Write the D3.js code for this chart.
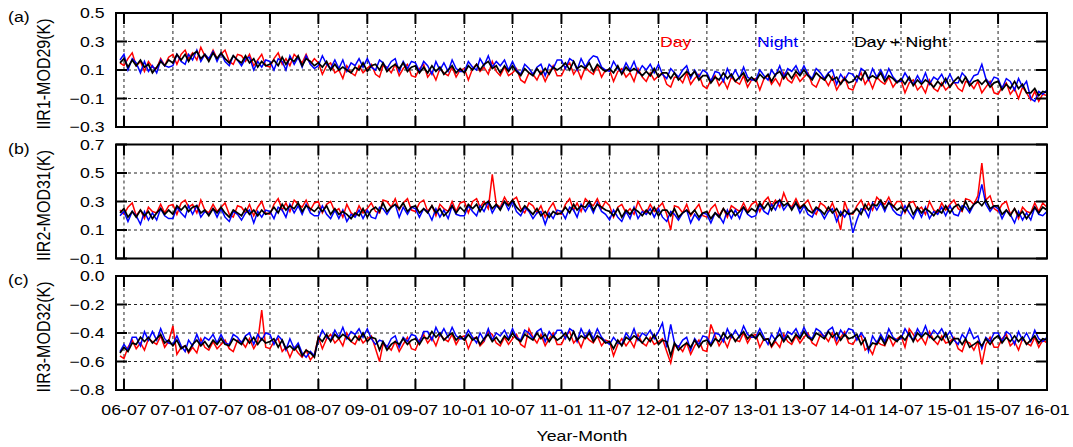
<!DOCTYPE html>
<html>
<head>
<meta charset="utf-8">
<script src="https://cdn.jsdelivr.net/npm/d3@7"></script>
<style>
body { margin: 0; background: #fff; }
svg { display: block; }
text { font-family: "Liberation Sans", Arial, sans-serif; fill: #000; }
</style>
</head>
<body>
<svg width="1073" height="447"></svg>
<script>

// half-month samples: 2006-06-16, then the 1st and 16th of each month up to 2016-01-01
var dates = [new Date(2006, 5, 16)];
for (var m = 0; m < 115; m++) {
    dates.push(new Date(2006, 6 + m, 1));
    if (m < 114) dates.push(new Date(2006, 6 + m, 16));
}

var xTickDates = d3.timeMonth.every(6).range(new Date(2006, 6, 1), new Date(2016, 0, 2));
var seriesNames = ["Day", "Night", "Day + Night"];
var panelLabels = ["(a)", "(b)", "(c)"];
var yTitles = ["IIR1-MOD29(K)", "IIR2-MOD31(K)", "IIR3-MOD32(K)"];
var yDomains = [[-0.3, 0.5], [-0.1, 0.7], [-0.8, 0.0]];

// all series below are in units of 0.01 K, one row per half year

// panel (a) IIR1-MOD29
var dayA = [15,
 13,18,22,13,16,9,16,12,11,18,13,19,
 21,14,21,24,18,22,17,26,20,17,24,18,
 21,24,16,14,21,20,16,21,13,17,21,13,
 12,18,22,14,18,13,21,18,15,21,14,18,
 15,7,13,15,8,10,4,13,8,6,13,8,
 11,14,7,5,13,12,8,14,6,11,14,6,
 5,11,14,5,9,3,11,8,6,12,5,10,
 11,3,11,14,9,12,7,16,9,6,12,6,
 8,11,3,1,8,7,3,9,2,8,13,6,
 6,12,15,7,11,4,12,9,7,13,5,10,
 10,2,9,11,5,8,2,11,5,2,8,3,
 6,8,0,-2,5,5,1,8,0,4,7,-1,
 -3,3,6,-1,3,-3,5,2,0,6,-2,3,
 4,-4,4,6,0,4,-1,8,3,1,7,2,
 5,8,0,-2,5,4,-1,5,-4,1,5,-3,
 -4,3,8,0,4,-3,5,2,0,5,-2,2,
 3,-6,1,3,-4,-1,-6,3,-3,-5,1,-4,
 -1,2,-3,-5,2,1,-3,2,-6,-2,2,-6,
 -7,-2,1,-7,-3,-10,-2,-6,-11,-5,-12,-7,
 -8];
var nightA = [17,
 21,10,18,15,8,16,9,13,8,17,13,12,
 13,21,16,14,21,17,24,16,21,18,23,16,
 22,16,13,20,17,13,18,19,10,16,12,17,
 16,10,18,16,10,20,14,19,12,20,14,11,
 13,20,14,11,17,11,17,9,15,13,18,12,
 18,12,10,17,15,11,16,18,9,16,11,16,
 15,9,16,13,7,16,10,15,9,17,11,9,
 9,16,12,10,18,13,20,12,16,13,17,10,
 16,10,7,14,11,7,12,14,6,14,11,17,
 17,11,18,16,10,18,12,17,20,19,12,10,
 9,16,11,8,15,10,16,8,13,10,14,8,
 14,7,4,11,8,5,10,13,4,10,5,10,
 8,2,9,8,2,11,5,10,4,12,5,3,
 3,10,6,3,10,6,13,5,11,9,13,7,
 13,7,4,11,8,4,8,10,0,7,3,8,
 7,2,11,9,3,11,5,10,4,11,5,2,
 2,8,3,0,6,1,8,0,5,3,7,1,
 7,1,1,8,5,1,6,7,14,4,0,5,
 4,-3,4,2,-4,4,-2,2,-10,-12,-5,-7,
 -4];
var allA = [15,
 18,12,17,13,17,12,14,8,12,16,13,17,
 15,21,17,21,16,21,23,18,21,16,22,18,
 22,18,15,20,17,15,20,15,18,12,16,13,
 14,17,13,19,14,18,16,20,13,18,16,13,
 15,12,16,10,14,10,12,10,8,12,10,15,
 9,13,14,10,15,9,12,14,11,15,9,12,
 13,8,12,8,13,9,12,7,10,13,8,11,
 8,13,10,14,10,14,16,11,13,8,13,9,
 13,9,6,11,8,6,11,7,11,7,12,10,
 12,15,10,16,11,13,11,15,9,14,11,9,
 11,8,13,7,12,9,11,9,6,9,6,11,
 5,8,8,4,8,3,6,9,6,9,3,6,
 6,1,5,3,8,4,7,2,5,8,2,5,
 2,7,4,7,2,7,9,4,8,4,9,6,
 10,6,3,8,5,3,7,3,5,0,4,1,
 2,6,3,9,4,6,4,8,2,6,4,1,
 4,0,5,-1,3,0,3,1,-2,2,-1,4,
 -2,2,5,1,5,-1,2,3,0,3,-2,1,
 2,-4,0,-3,2,-3,0,-6,-6,-3,-8,-5,
 -6];

// panel (b) IIR2-MOD31
var dayB = [24,
 21,26,29,20,24,18,26,23,22,28,22,27,
 28,21,29,31,26,28,22,31,24,22,28,23,
 26,29,21,19,27,26,22,28,20,26,30,22,
 21,28,32,24,29,23,31,28,26,31,24,29,
 30,22,28,30,23,25,19,28,22,20,27,22,
 25,29,23,22,31,30,26,32,24,29,32,24,
 23,29,31,23,27,20,28,25,23,30,23,29,
 30,22,30,32,26,30,25,49,28,26,33,28,
 31,33,25,22,29,27,22,27,19,25,29,22,
 21,28,32,24,29,23,32,29,27,32,25,30,
 27,19,26,28,22,25,21,30,24,22,28,23,
 26,29,21,10,27,26,22,28,20,24,28,20,
 19,25,28,20,25,19,27,25,23,29,23,28,
 30,23,30,33,27,31,26,36,29,26,32,26,
 28,31,24,21,29,27,23,29,21,10,30,22,
 21,27,31,24,29,24,33,30,28,33,26,30,
 30,22,29,30,24,26,21,30,24,22,29,24,
 28,31,25,23,32,31,28,34,57,31,34,25,
 23,28,30,21,25,18,26,23,22,29,23,29,
 26];
var nightB = [20,
 23,16,23,20,14,23,17,22,17,25,20,18,
 18,26,22,19,27,21,27,19,23,21,25,19,
 25,19,16,23,21,17,22,24,15,23,19,24,
 23,18,26,24,19,28,22,27,21,28,22,20,
 20,27,21,18,24,18,24,16,21,19,24,18,
 24,19,18,26,25,21,26,28,19,26,21,26,
 25,19,25,23,17,25,19,24,18,27,21,20,
 20,27,23,20,27,23,30,22,27,25,30,24,
 30,23,20,26,23,18,22,23,14,22,18,24,
 23,18,26,24,19,28,23,28,22,29,23,21,
 17,24,19,16,23,18,26,18,23,21,25,19,
 25,19,16,23,21,17,22,24,15,21,17,22,
 21,15,22,20,15,24,18,24,18,26,21,19,
 20,28,23,21,28,24,31,24,28,25,29,22,
 27,21,19,25,23,18,23,25,16,23,19,24,
 8,17,25,24,19,29,24,29,23,30,24,21,
 20,27,22,18,25,19,26,18,23,21,26,20,
 27,21,20,27,26,22,28,30,42,28,23,27,
 25,18,24,21,15,23,17,22,17,26,21,20,
 23];
var allB = [22,
 25,19,23,19,24,20,23,18,22,25,21,24,
 21,27,24,27,23,26,27,22,24,20,25,22,
 26,22,19,24,22,20,25,21,24,20,24,21,
 22,26,22,28,24,27,25,29,23,27,25,23,
 26,23,27,21,25,21,23,21,18,22,20,25,
 19,24,26,23,29,23,26,28,25,29,23,26,
 27,22,25,22,27,22,25,20,23,27,22,26,
 23,28,25,28,23,28,30,25,28,24,30,27,
 31,26,23,27,24,21,25,20,23,19,23,21,
 22,26,22,28,24,27,26,30,24,28,26,24,
 23,20,25,19,24,21,25,23,20,24,21,26,
 20,24,24,20,25,19,22,24,21,24,19,22,
 23,18,22,19,25,21,24,20,23,26,22,25,
 23,29,25,29,24,29,31,27,29,24,29,25,
 28,24,22,26,24,21,26,22,25,20,24,21,
 22,25,21,28,24,28,27,31,25,29,27,24,
 26,23,28,21,26,22,25,23,20,24,22,27,
 22,26,28,24,30,24,28,30,27,31,25,27,
 27,21,24,20,25,20,23,18,22,26,22,26,
 24];

// panel (c) IIR3-MOD32
var dayC = [-56,
 -58,-50,-45,-51,-47,-52,-44,-46,-48,-42,-50,-46,
 -35,-55,-50,-49,-54,-50,-54,-44,-50,-52,-46,-51,
 -48,-45,-51,-53,-45,-46,-50,-44,-51,-46,-24,-50,
 -51,-46,-44,-53,-50,-57,-50,-54,-57,-52,-59,-55,
 -43,-51,-44,-41,-47,-44,-49,-40,-46,-48,-42,-47,
 -44,-42,-51,-60,-48,-49,-52,-46,-53,-48,-43,-51,
 -52,-45,-41,-47,-43,-49,-41,-44,-46,-41,-48,-43,
 -42,-51,-44,-43,-49,-46,-39,-41,-47,-49,-43,-48,
 -44,-41,-48,-50,-37,-43,-47,-41,-49,-44,-40,-48,
 -48,-42,-39,-47,-44,-50,-42,-45,-47,-42,-49,-45,
 -46,-56,-48,-44,-49,-45,-50,-41,-47,-49,-43,-48,
 -46,-44,-53,-61,-49,-49,-53,-47,-55,-49,-45,-52,
 -53,-34,-42,-49,-44,-50,-42,-45,-46,-40,-47,-42,
 -41,-50,-44,-44,-50,-46,-50,-41,-46,-48,-42,-47,
 -43,-40,-47,-49,-41,-42,-46,-40,-48,-43,-39,-47,
 -48,-43,-42,-52,-50,-55,-46,-48,-49,-42,-49,-44,
 -42,-50,-37,-41,-46,-43,-48,-39,-45,-48,-42,-47,
 -46,-43,-51,-53,-46,-47,-52,-46,-62,-48,-43,-50,
 -50,-44,-41,-49,-46,-52,-44,-47,-49,-43,-50,-45,
 -47];
var nightC = [-53,
 -48,-52,-43,-43,-49,-39,-45,-39,-45,-37,-44,-47,
 -48,-42,-49,-53,-45,-49,-41,-48,-43,-45,-41,-47,
 -41,-47,-48,-41,-43,-47,-42,-40,-48,-41,-45,-40,
 -41,-48,-42,-45,-52,-44,-51,-47,-54,-57,-53,-56,
 -45,-38,-43,-45,-38,-43,-36,-44,-39,-41,-37,-43,
 -37,-44,-48,-45,-46,-50,-44,-42,-50,-43,-46,-41,
 -42,-47,-39,-39,-45,-36,-42,-37,-43,-36,-42,-44,
 -44,-38,-43,-47,-40,-45,-37,-45,-40,-42,-38,-44,
 -37,-43,-45,-38,-40,-44,-39,-37,-46,-39,-43,-38,
 -38,-44,-37,-39,-46,-37,-43,-38,-44,-37,-43,-46,
 -48,-43,-47,-48,-40,-44,-37,-45,-40,-42,-38,-44,
 -39,-33,-50,-34,-47,-50,-45,-43,-52,-44,-48,-42,
 -43,-48,-40,-41,-46,-37,-43,-38,-43,-35,-41,-43,
 -43,-37,-43,-48,-41,-45,-37,-45,-39,-41,-37,-43,
 -36,-42,-44,-37,-39,-43,-38,-36,-45,-38,-42,-37,
 -38,-45,-40,-44,-53,-42,-47,-41,-46,-37,-43,-45,
 -44,-37,-42,-45,-37,-42,-35,-43,-38,-41,-37,-43,
 -39,-45,-48,-41,-44,-37,-44,-42,-51,-43,-46,-40,
 -40,-46,-39,-41,-48,-39,-45,-40,-46,-38,-44,-46,
 -43];
var allC = [-54,
 -50,-53,-47,-48,-43,-46,-43,-47,-44,-41,-47,-45,
 -49,-45,-51,-49,-53,-48,-45,-49,-46,-50,-45,-48,
 -44,-48,-49,-44,-46,-48,-43,-47,-43,-48,-44,-47,
 -46,-44,-50,-45,-51,-49,-52,-49,-56,-52,-54,-57,
 -43,-46,-41,-46,-41,-44,-41,-43,-46,-42,-45,-40,
 -46,-43,-44,-52,-46,-52,-48,-46,-48,-44,-48,-45,
 -44,-48,-43,-44,-39,-43,-40,-45,-42,-40,-45,-42,
 -45,-41,-45,-43,-48,-44,-41,-46,-43,-47,-42,-45,
 -40,-44,-46,-41,-43,-45,-40,-44,-41,-46,-42,-45,
 -43,-40,-45,-39,-45,-42,-44,-40,-46,-42,-44,-47,
 -46,-51,-45,-49,-43,-45,-42,-44,-47,-43,-46,-41,
 -48,-45,-46,-56,-47,-52,-49,-47,-50,-45,-50,-46,
 -45,-49,-44,-46,-40,-44,-41,-46,-42,-39,-44,-41,
 -44,-40,-45,-44,-49,-44,-41,-46,-42,-46,-41,-44,
 -39,-43,-45,-40,-42,-44,-39,-43,-40,-45,-41,-44,
 -43,-41,-48,-44,-51,-47,-48,-43,-48,-42,-44,-46,
 -42,-45,-40,-46,-40,-43,-40,-42,-45,-42,-45,-40,
 -48,-44,-44,-48,-44,-50,-48,-46,-49,-44,-48,-44,
 -42,-47,-43,-46,-42,-46,-43,-48,-45,-42,-47,-44,
 -45];

var panelData = [[dayA, nightA, allA], [dayB, nightB, allB], [dayC, nightC, allC]];
var colors = ["#ff0000", "#0000ff", "#000000"];

var svg = d3.select("svg");
var left = 116, right = 1047, plotH = 114;
var panelTops = [13, 144.5, 276];
var tickLen = 11;

var x = d3.scaleTime()
    .domain([new Date(2006, 5, 1), new Date(2016, 0, 1)])
    .range([left, right]);

// text is a bit wider than tall in the original, so stretch it sideways
function label(g, px, py, s, anchor, size) {
    return g.append("text")
        .attr("transform", "translate(" + px + "," + py + ") scale(1.18,1)")
        .attr("text-anchor", anchor)
        .style("font-size", size + "px")
        .text(s);
}

function drawPanel(p) {
    var top = panelTops[p], bottom = top + plotH;
    var g = svg.append("g");
    var y = d3.scaleLinear().domain(yDomains[p]).range([bottom, top]);
    var yTicks = d3.range(0, 5).map(function(k) { return +(yDomains[p][0] + 0.2 * k).toFixed(1); });

    // grid
    g.selectAll(".hgrid").data(yTicks.slice(1, -1)).enter().append("line")
        .attr("x1", left).attr("x2", right)
        .attr("y1", function(d) { return y(d); })
        .attr("y2", function(d) { return y(d); })
        .style("stroke", "#222").style("stroke-width", 1).style("stroke-dasharray", "3,3");
    g.selectAll(".vgrid").data(xTickDates.slice(0, -1)).enter().append("line")
        .attr("x1", function(d) { return x(d); })
        .attr("x2", function(d) { return x(d); })
        .attr("y1", top).attr("y2", bottom)
        .style("stroke", "#222").style("stroke-width", 1).style("stroke-dasharray", "3,3");

    // series: day, night, then the combined one on top
    for (var s = 0; s < 3; s++) {
        var line = d3.line()
            .x(function(d, i) { return x(dates[i]); })
            .y(function(d) { return y(d / 100); });
        g.append("path")
            .datum(panelData[p][s])
            .attr("d", line)
            .style("fill", "none")
            .style("stroke", colors[s])
            .style("stroke-width", s == 2 ? 1.7 : 1.5)
            .style("stroke-linejoin", "miter");
    }

    // ticks, inward on all four sides
    g.selectAll(".xt").data(xTickDates).enter().append("path")
        .attr("d", function(d) {
            var xx = x(d);
            return "M" + xx + "," + top + "V" + (top + tickLen) + "M" + xx + "," + bottom + "V" + (bottom - tickLen);
        })
        .style("stroke", "#000").style("stroke-width", 2);
    g.selectAll(".yt").data(yTicks).enter().append("path")
        .attr("d", function(d) {
            var yy = y(d);
            return "M" + left + "," + yy + "H" + (left + tickLen) + "M" + right + "," + yy + "H" + (right - tickLen);
        })
        .style("stroke", "#000").style("stroke-width", 2);

    g.append("rect")
        .attr("x", left).attr("y", top)
        .attr("width", right - left).attr("height", plotH)
        .style("fill", "none").style("stroke", "#000").style("stroke-width", 2);

    // y tick labels
    yTicks.forEach(function(v) {
        label(g, 104.5, y(v) + 5.2, d3.format(".1f")(v), "end", 15);
    });

    label(g, 8, top + 9, panelLabels[p], "start", 15);

    g.append("text")
        .attr("transform", "translate(50," + (top + plotH / 2 + 4) + ") rotate(-90) scale(1,1.15)")
        .attr("text-anchor", "middle")
        .style("font-size", "16px")
        .text(yTitles[p]);
}

for (var p = 0; p < 3; p++) drawPanel(p);

// legend in panel (a)
var legendX = [660, 757, 854];
for (var s = 0; s < 3; s++) {
    label(svg, legendX[s], 47, seriesNames[s], "start", 15).style("fill", colors[s]);
}

// x tick labels under the last panel
var fmt = d3.timeFormat("%y-%m");
xTickDates.forEach(function(d) {
    label(svg, x(d), 415, fmt(d), "middle", 15);
});
label(svg, 582, 441, "Year-Month", "middle", 15);

</script>
</body>
</html>
